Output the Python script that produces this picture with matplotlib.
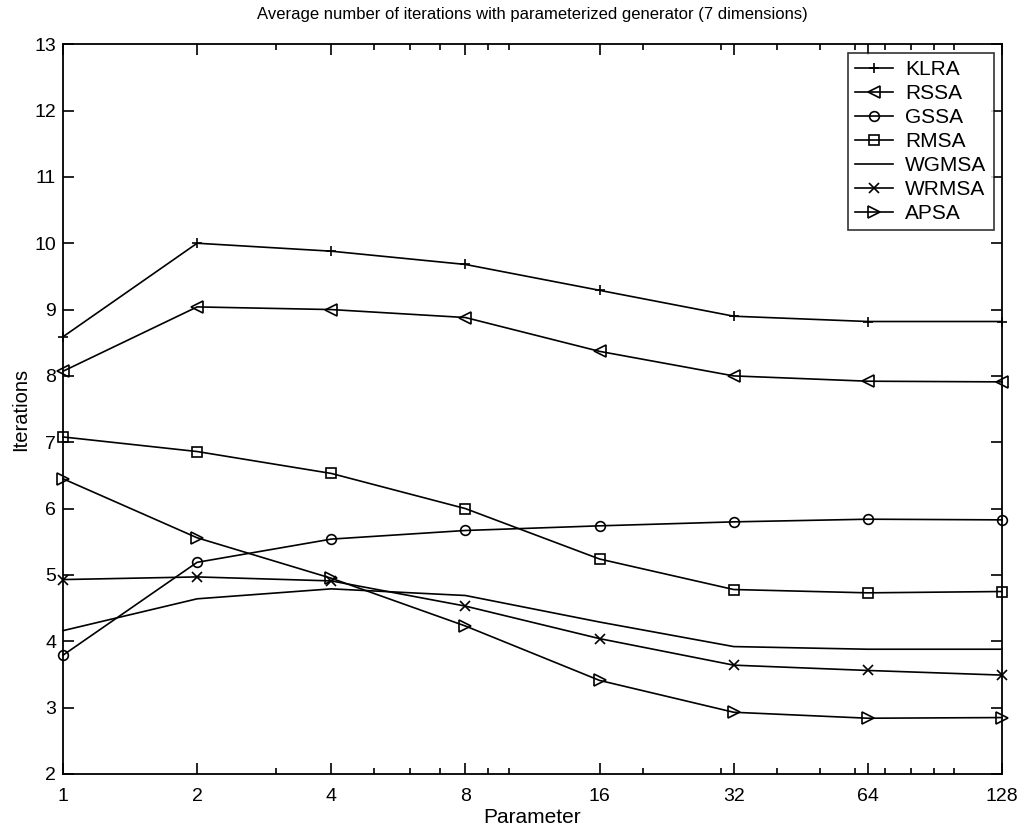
import matplotlib
matplotlib.use("Agg")
import matplotlib.pyplot as plt
from matplotlib.ticker import FixedLocator, LogLocator, NullFormatter

# Values
params = [1, 2, 4, 8, 16, 32, 64, 128]
klra = [8.59, 10.0, 9.88, 9.68, 9.29, 8.90, 8.82, 8.82]
rssa = [8.07, 9.04, 9.00, 8.88, 8.37, 8.00, 7.92, 7.91]
gssa = [3.79, 5.19, 5.54, 5.67, 5.74, 5.80, 5.84, 5.83]
rmsa = [7.08, 6.86, 6.53, 6.00, 5.24, 4.78, 4.73, 4.75]
wgmsa = [4.16, 4.64, 4.79, 4.69, 4.29, 3.92, 3.88, 3.88]
wrmsa = [4.93, 4.97, 4.91, 4.53, 4.04, 3.64, 3.56, 3.49]
apsa = [6.45, 5.56, 4.95, 4.23, 3.41, 2.93, 2.84, 2.85]

series = [
    ("KLRA", klra, "+"),
    ("RSSA", rssa, "<"),
    ("GSSA", gssa, "o"),
    ("RMSA", rmsa, "s"),
    ("WGMSA", wgmsa, None),
    ("WRMSA", wrmsa, "x"),
    ("APSA", apsa, ">"),
]

plt.rcParams["font.family"] = ["Liberation Sans", "DejaVu Sans"]

fig = plt.figure(figsize=(10.24, 8.34), dpi=100)
ax = fig.add_axes([0.0615, 0.072, 0.917, 0.875])

for name, vals, mk in series:
    ax.plot(params, vals, color="black", linewidth=1.2, marker=mk,
            markersize=8 if mk in ("<", ">") else 7, markerfacecolor="none",
            markeredgecolor="black", markeredgewidth=1.2, label=name,
            clip_on=False)

ax.set_xscale("log", base=2)
ax.set_xlim(1, 128)
ax.set_ylim(2, 13)
ax.xaxis.set_major_locator(FixedLocator(params))
ax.set_xticklabels([str(p) for p in params])
ax.xaxis.set_minor_locator(LogLocator(base=10, subs=range(1, 10)))
ax.xaxis.set_minor_formatter(NullFormatter())
ax.set_yticks(range(2, 14))

ax.tick_params(which="both", direction="in", top=True, right=True, labelsize=14, width=1.2)
ax.tick_params(which="major", length=8)
ax.tick_params(which="minor", length=4)
ax.tick_params(axis="x", pad=10)
ax.tick_params(axis="y", pad=5)
for sp in ax.spines.values():
    sp.set_linewidth(1.3)

ax.set_xlabel("Parameter", fontsize=15, labelpad=2)
ax.set_ylabel("Iterations", fontsize=14.5, labelpad=3)
ax.set_title("Average number of iterations with parameterized generator (7 dimensions)",
             fontsize=12, pad=18)

leg = ax.legend(loc="upper right", fontsize=15, frameon=True, fancybox=False,
                edgecolor="black", handlelength=1.8, borderpad=0.35,
                labelspacing=0.24, handletextpad=0.6, borderaxespad=0.4)
leg.get_frame().set_linewidth(1.2)

fig.savefig("out.png", dpi=100)
